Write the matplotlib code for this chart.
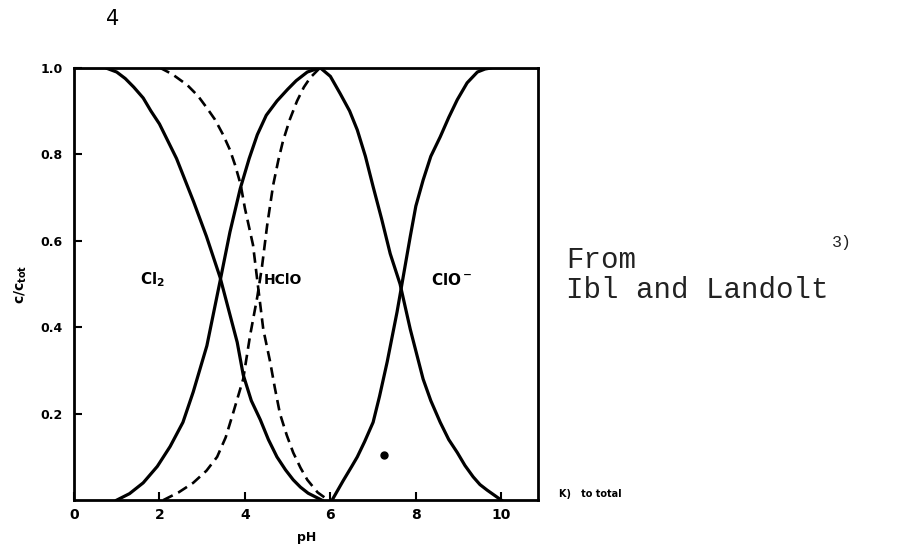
import matplotlib.pyplot as plt

# solid curves
ph_cl2 = [0, 0.73, 1.0, 1.2, 1.4, 1.62, 1.8, 2.0, 2.4, 2.8, 3.1, 3.42, 3.82, 3.96, 4.15, 4.36, 4.55, 4.75, 4.95, 5.13, 5.3, 5.48, 5.8]
c_cl2 = [1.0, 1.0, 0.99, 0.975, 0.955, 0.93, 0.90, 0.87, 0.79, 0.69, 0.61, 0.515, 0.365, 0.29, 0.23, 0.186, 0.14, 0.10, 0.07, 0.047, 0.03, 0.016, 0.0]

ph_hclo = [1.0, 1.3, 1.62, 1.95, 2.25, 2.55, 2.79, 3.11, 3.42, 3.65, 3.89, 4.1, 4.29, 4.5, 4.75, 5.0, 5.2, 5.46, 5.76, 6.0, 6.23, 6.45, 6.63, 6.82, 7.0, 7.2, 7.4, 7.63, 7.87, 8.17, 8.35, 8.57, 8.77, 8.97, 9.15, 9.34, 9.5, 9.67, 10.0]
c_hclo = [0, 0.015, 0.04, 0.078, 0.124, 0.18, 0.25, 0.357, 0.507, 0.62, 0.72, 0.79, 0.845, 0.89, 0.923, 0.95, 0.97, 0.99, 1.0, 0.98, 0.94, 0.9, 0.856, 0.795, 0.725, 0.65, 0.57, 0.50, 0.395, 0.28, 0.23, 0.18, 0.14, 0.11, 0.08, 0.054, 0.036, 0.023, 0.0]

ph_clo = [6.04, 6.3, 6.5, 6.63, 6.8, 7.0, 7.15, 7.33, 7.56, 7.87, 8.0, 8.17, 8.35, 8.57, 8.77, 8.97, 9.2, 9.44, 9.62, 9.8, 10.87]
c_clo = [0, 0.045, 0.078, 0.10, 0.135, 0.18, 0.24, 0.32, 0.435, 0.61, 0.68, 0.74, 0.795, 0.84, 0.885, 0.926, 0.965, 0.99, 0.997, 1.0, 1.0]

# dashed curves
ph_cl2_d = [2.01, 2.3, 2.65, 2.9, 3.11, 3.3, 3.49, 3.65, 3.77, 3.9, 4.0, 4.19, 4.3, 4.43, 4.59, 4.7, 4.82, 4.98, 5.13, 5.3, 5.46, 5.7, 5.95]
c_cl2_d = [1.0, 0.985, 0.96, 0.935, 0.907, 0.88, 0.845, 0.81, 0.775, 0.73, 0.675, 0.59, 0.50, 0.395, 0.32, 0.26, 0.20, 0.15, 0.11, 0.075, 0.047, 0.018, 0.0]

ph_hclo_d = [2.09, 2.45, 2.79, 3.1, 3.35, 3.55, 3.72, 3.96, 4.12, 4.29, 4.4, 4.52, 4.66, 4.78, 4.89, 5.05, 5.22, 5.38, 5.53, 5.76]
c_hclo_d = [0, 0.018, 0.04, 0.068, 0.10, 0.145, 0.20, 0.28, 0.38, 0.47, 0.54, 0.635, 0.728, 0.785, 0.83, 0.88, 0.923, 0.955, 0.977, 1.0]

xticks = [0, 2, 4, 6, 8, 10]
yticks = [0.2, 0.4, 0.6, 0.8, 1.0]
ylabels = ['0.2', '0.4', '0.6', '0.8', '1.0']
blob = (7.25, 0.105)

fig = plt.figure(figsize=(9.02, 5.46), dpi=100)
ax = fig.add_axes([0.082, 0.084, 0.515, 0.792])

ax.plot(ph_cl2, c_cl2, color='black', lw=2.3)
ax.plot(ph_hclo, c_hclo, color='black', lw=2.3)
ax.plot(ph_clo, c_clo, color='black', lw=2.3)
ax.plot(ph_cl2_d, c_cl2_d, color='black', lw=1.9, dashes=(4, 2.3))
ax.plot(ph_hclo_d, c_hclo_d, color='black', lw=1.9, dashes=(4, 2.3))
ax.plot([blob[0]], [blob[1]], 'o', color='black', ms=5)

ax.set_xlim(0, 10.87)
ax.set_ylim(0, 1.0)
for s in ax.spines.values():
    s.set_linewidth(2)
ax.set_xticks(xticks)
ax.set_xticklabels([str(t) for t in xticks], fontsize=10, fontweight='bold')
ax.set_yticks(yticks)
ax.set_yticklabels(ylabels, fontsize=9, fontweight='bold')
ax.tick_params(axis='both', direction='in', length=6, width=1.5)
ax.tick_params(axis='x', pad=6)
ax.tick_params(axis='y', pad=8)

ax.set_xlabel('pH', fontsize=9, fontweight='bold', labelpad=6)
ax.set_ylabel(r'$\mathbf{c/c_{tot}}$', fontsize=10, labelpad=8)

ax.text(1.85, 0.51, r'$\mathbf{Cl_2}$', fontsize=11, ha='center', va='center')
ax.text(4.9, 0.51, 'HClO', fontsize=10, fontweight='bold', ha='center', va='center')
ax.text(8.85, 0.51, r'$\mathbf{ClO^-}$', fontsize=11, ha='center', va='center')

fig.text(0.125, 0.965, '4', fontsize=15, ha='center', va='center')
fig.text(0.62, 0.095, 'K)   to total', fontsize=7, fontweight='bold', va='center')
fig.text(0.628, 0.524, 'From', fontsize=21, family='Liberation Mono', color='#222222', va='center')
fig.text(0.628, 0.469, 'Ibl and Landolt', fontsize=21, family='Liberation Mono', color='#222222', va='center')
fig.text(0.922, 0.555, '3)', fontsize=12, family='Liberation Mono', color='#222222', va='center')

fig.savefig('out.png', dpi=100)
